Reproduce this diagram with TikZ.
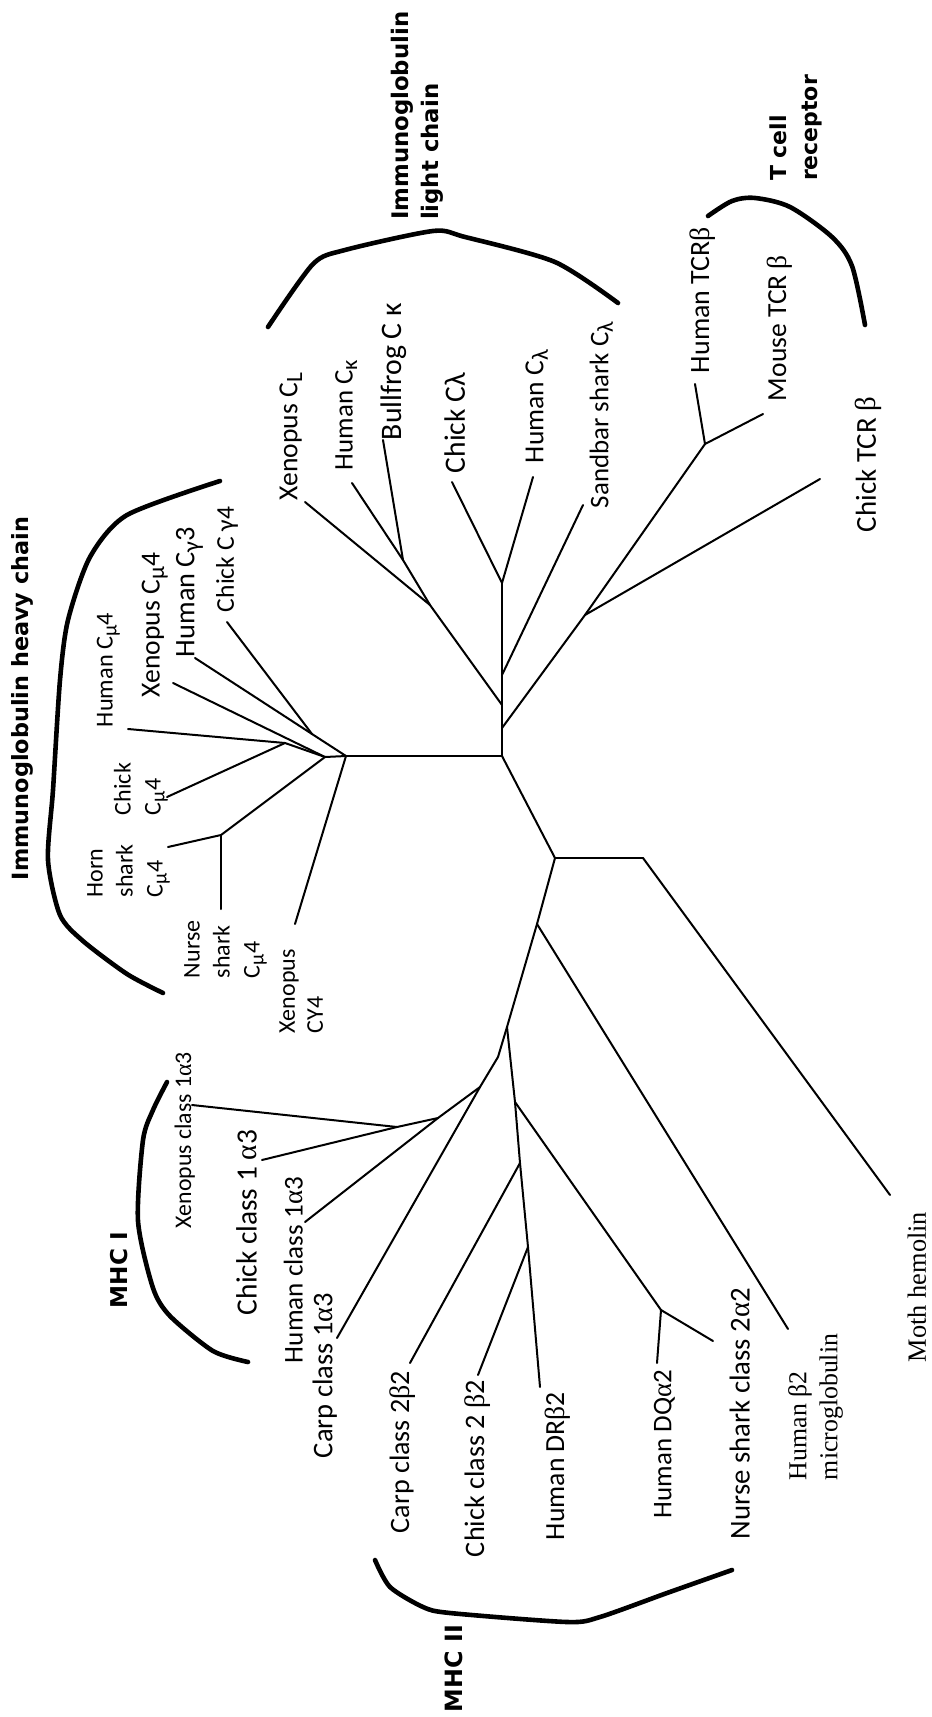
\documentclass[tikz,border=0pt]{standalone}
\usepackage{fontspec}
\usepackage{graphicx}
\setmainfont{Carlito}
\newfontfamily\ttlfont{DejaVu Sans}
\newfontfamily\srf{Liberation Serif}
\newcommand\gk[1]{{\srf #1}}
\newcommand\fit[2]{\resizebox{#1pt}{!}{#2}}
\newcommand\lo[1]{\raisebox{-0.35ex}{\scalebox{0.85}{#1}}}
\tikzset{
  br/.style={line width=2.3pt, line cap=round, line join=round},
  tr/.style={line width=1pt, line cap=round, line join=round},
  lab/.style={rotate=90, anchor=south west, inner sep=0pt, outer sep=0pt, font=\fontsize{12}{15}\selectfont},
  mlab/.style={lab, align=left},
  ttl/.style={lab, font=\ttlfont\bfseries},
}
\begin{document}
\begin{tikzpicture}[x=0.5pt,y=-0.5pt]
\fill[white] (0,0) rectangle (931,1717);
\useasboundingbox (0,0) rectangle (931,1717);

% ---------- internal nodes ----------
\coordinate (A) at (502,756);
\coordinate (L1) at (502,583);
\coordinate (V1) at (502,675);
\coordinate (V2) at (502,705);
\coordinate (V3) at (502,728);
\coordinate (L3) at (430,605);
\coordinate (L4) at (403,560);
\coordinate (T0) at (585,615);
\coordinate (T1) at (705,444);
\coordinate (H0) at (346,756);
\coordinate (H5) at (312,734);
\coordinate (H3) at (325,757);
\coordinate (H2) at (285,743);
\coordinate (H4) at (221,835);
\coordinate (B) at (555,858);
\coordinate (C) at (643,858);
\coordinate (D) at (537,924);
\coordinate (E) at (507,1027);
\coordinate (Eb) at (498,1057);
\coordinate (G) at (480,1087);
\coordinate (H) at (438,1118);
\coordinate (I) at (397,1127);
\coordinate (F1) at (515,1102);
\coordinate (F2) at (520,1163);
\coordinate (F3) at (528,1247);
\coordinate (J) at (661,1310);

% ---------- leaf tips ----------
\coordinate (tXcl) at (305,502);
\coordinate (tHck) at (352,483);
\coordinate (tBck) at (383,440);
\coordinate (tCcl) at (452,482);
\coordinate (tHcl) at (533,477);
\coordinate (tScl) at (583,505);
\coordinate (tHtcr) at (695,384);
\coordinate (tMtcr) at (763,414);
\coordinate (tCtcr) at (820,479);
\coordinate (tCg4) at (227,622);
\coordinate (tHg3) at (195,658);
\coordinate (tXm4) at (173,683);
\coordinate (tHm4) at (128,729);
\coordinate (tCm4) at (167,797);
\coordinate (tHorn) at (168,847);
\coordinate (tNurse) at (221,909);
\coordinate (tXy4) at (295,924);
\coordinate (tMoth) at (890,1195);
\coordinate (tB2m) at (788,1329);
\coordinate (tXc1) at (192,1105);
\coordinate (tCc1) at (262,1160);
\coordinate (tHc1) at (305,1222);
\coordinate (tCarp1) at (337,1338);
\coordinate (tDR) at (540,1387);
\coordinate (tDQ) at (657,1363);
\coordinate (tNs2) at (713,1341);
\coordinate (tCarp2) at (410,1363);
\coordinate (tCc2) at (478,1375);

% ---------- branches ----------
\draw[tr] (A) -- (L1);
\draw[tr] (L1) -- (tCcl);
\draw[tr] (L1) -- (tHcl);
\draw[tr] (V1) -- (tScl);
\draw[tr] (V2) -- (L3);
\draw[tr] (L3) -- (tXcl);
\draw[tr] (L3) -- (L4);
\draw[tr] (L4) -- (tHck);
\draw[tr] (L4) -- (tBck);
\draw[tr] (V3) -- (T0);
\draw[tr] (T0) -- (T1);
\draw[tr] (T0) -- (tCtcr);
\draw[tr] (T1) -- (tHtcr);
\draw[tr] (T1) -- (tMtcr);

\draw[tr] (A) -- (H0);
\draw[tr] (H0) -- (tXy4);
\draw[tr] (H0) -- (H5);
\draw[tr] (H5) -- (tCg4);
\draw[tr] (H5) -- (tHg3);
\draw[tr] (H0) -- (H3);
\draw[tr] (H3) -- (tXm4);
\draw[tr] (H3) -- (H2);
\draw[tr] (H2) -- (tHm4);
\draw[tr] (H2) -- (tCm4);
\draw[tr] (H3) -- (H4);
\draw[tr] (H4) -- (tHorn);
\draw[tr] (H4) -- (tNurse);

\draw[tr] (A) -- (B);
\draw[tr] (B) -- (C);
\draw[tr] (C) -- (tMoth);
\draw[tr] (B) -- (D);
\draw[tr] (D) -- (tB2m);
\draw[tr] (D) -- (E);
\draw[tr] (E) -- (Eb) -- (G);
\draw[tr] (G) -- (H);
\draw[tr] (G) -- (tCarp1);
\draw[tr] (H) -- (I);
\draw[tr] (H) -- (tHc1);
\draw[tr] (I) -- (tXc1);
\draw[tr] (I) -- (tCc1);
\draw[tr] (E) -- (F1) -- (F2) -- (F3) -- (tDR);
\draw[tr] (F1) -- (J);
\draw[tr] (J) -- (tDQ);
\draw[tr] (J) -- (tNs2);
\draw[tr] (F2) -- (tCarp2);
\draw[tr] (F3) -- (tCc2);

% ---------- brackets ----------
\draw[br] plot[smooth, tension=0.45] coordinates {(220,481) (127,515) (90,557) (68,620) (60,680) (53,790) (48,860) (60,915) (83,941) (127,974) (163,993)};
\draw[br] plot[smooth, tension=0.45] coordinates {(268,327) (313,264) (345,250) (433,231) (465,237) (555,262) (618,303)};
\draw[br] plot[smooth, tension=0.5] coordinates {(708,216) (732,201) (755,198) (790,207) (832,237) (852,266) (865,325)};
\draw[br] plot[smooth, tension=0.45] coordinates {(167,1082) (153,1110) (143,1140) (138,1221) (153,1288) (170,1316) (213,1351) (248,1362)};
\draw[br] plot[smooth, tension=0.45] coordinates {(375,1560) (390,1587) (423,1607) (450,1613) (567,1622) (600,1617) (667,1593) (732,1570)};

% ---------- labels: light chain & TCR ----------
\node[lab] (nXcl) at (302,500) {\fit{63.5}{Xenopus C\lo{L}}};
\node[lab] (nHck) at (357,470) {\fit{55}{Human C\lo{κ}}};
\node[lab] (nBck) at (407,440) {\fit{68.5}{Bullfrog C κ}};
\node[lab] (nCcl) at (465,473) {\fit{50}{Chick Cλ}};
\node[lab] (nHcl) at (548,463) {\fit{56.5}{Human C\lo{λ}}};
\node[lab] (nScl) at (613,508) {\fit{93}{Sandbar shark C\lo{λ}}};
\node[lab] (nHtcr) at (715,373) {\fit{73}{Human TCR\gk{β}}};
\node[lab] (nMtcr) at (792,401) {\fit{73}{Mouse TCR \gk{β}}};
\node[lab] (nCtcr) at (882,532) {\fit{67.5}{Chick TCR \gk{β}}};

% ---------- labels: heavy chain ----------
\node[lab] (nHm4) at (120,727) {\fit{57}{Human C\lo{μ}4}};
\node[lab] (nXm4) at (168,697) {\fit{72}{Xenopus C\lo{μ}4}};
\node[lab] (nHg3) at (203,657) {\fit{65}{Human C\lo{γ}3}};
\node[lab] (nCg4) at (238,612) {\fit{52.5}{Chick C γ4}};
\node[mlab] (nCm4) at (168,815) {Chick\\C\lo{μ}4};
\node[mlab] (nHorn) at (170,897) {Horn\\shark\\C\lo{μ}4};
\node[mlab] (nNurse) at (267,978) {Nurse\\shark\\C\lo{μ}4};
\node[mlab, font=\fontsize{12}{14}\selectfont] (nXy4) at (323,1033) {Xenopus\\CY4};

% ---------- labels: MHC and others ----------
\node[lab] (nXc1) at (195,1228) {\fit{88}{Xenopus class 1\gk{α}3}};
\node[lab] (nCc1) at (257,1315) {\fit{92.5}{Chick class 1 \gk{α}3}};
\node[lab] (nHc1) at (303,1363) {\fit{93}{Human class 1\gk{α}3}};
\node[lab] (nCarp1) at (337,1458) {\fit{82.5}{Carp class 1\gk{α}3}};
\node[lab] (nCarp2) at (415,1533) {\fit{81}{Carp class 2\gk{β}2}};
\node[lab] (nCc2) at (490,1557) {\fit{88.5}{Chick class 2 \gk{β}2}};
\node[lab] (nDR) at (570,1540) {\fit{74}{Human DR\gk{β}2}};
\node[lab] (nDQ) at (675,1518) {\fit{74}{Human DQ\gk{α}2}};
\node[lab] (nNs2) at (750,1539) {\fit{125.5}{Nurse shark class 2\gk{α}2}};
\node[lab, align=left, font=\srf\fontsize{12.9}{15.5}\selectfont] (nB2m) at (843,1480) {Human β2\\microglobulin};
\node[lab] (nMoth) at (926,1362) {\fit{75}{\srf Moth hemolin}};

% ---------- group titles ----------
\node[ttl] (gHeavy) at (33,880) {\fit{181.5}{Immunoglobulin heavy chain}};
\node[ttl, align=left, font=\ttlfont\bfseries\fontsize{11.4}{15}\selectfont] (gLight) at (443,220) {Immunoglobulin\\light chain};
\node[ttl, align=left, font=\ttlfont\bfseries\fontsize{11}{15.5}\selectfont] (gTcr) at (822,181) {T cell\\receptor};
\node[ttl] (gM1) at (128,1308) {\fit{38}{MHC I}};
\node[ttl] (gM2) at (463,1712) {\fit{43.5}{MHC II}};
\end{tikzpicture}
\end{document}
